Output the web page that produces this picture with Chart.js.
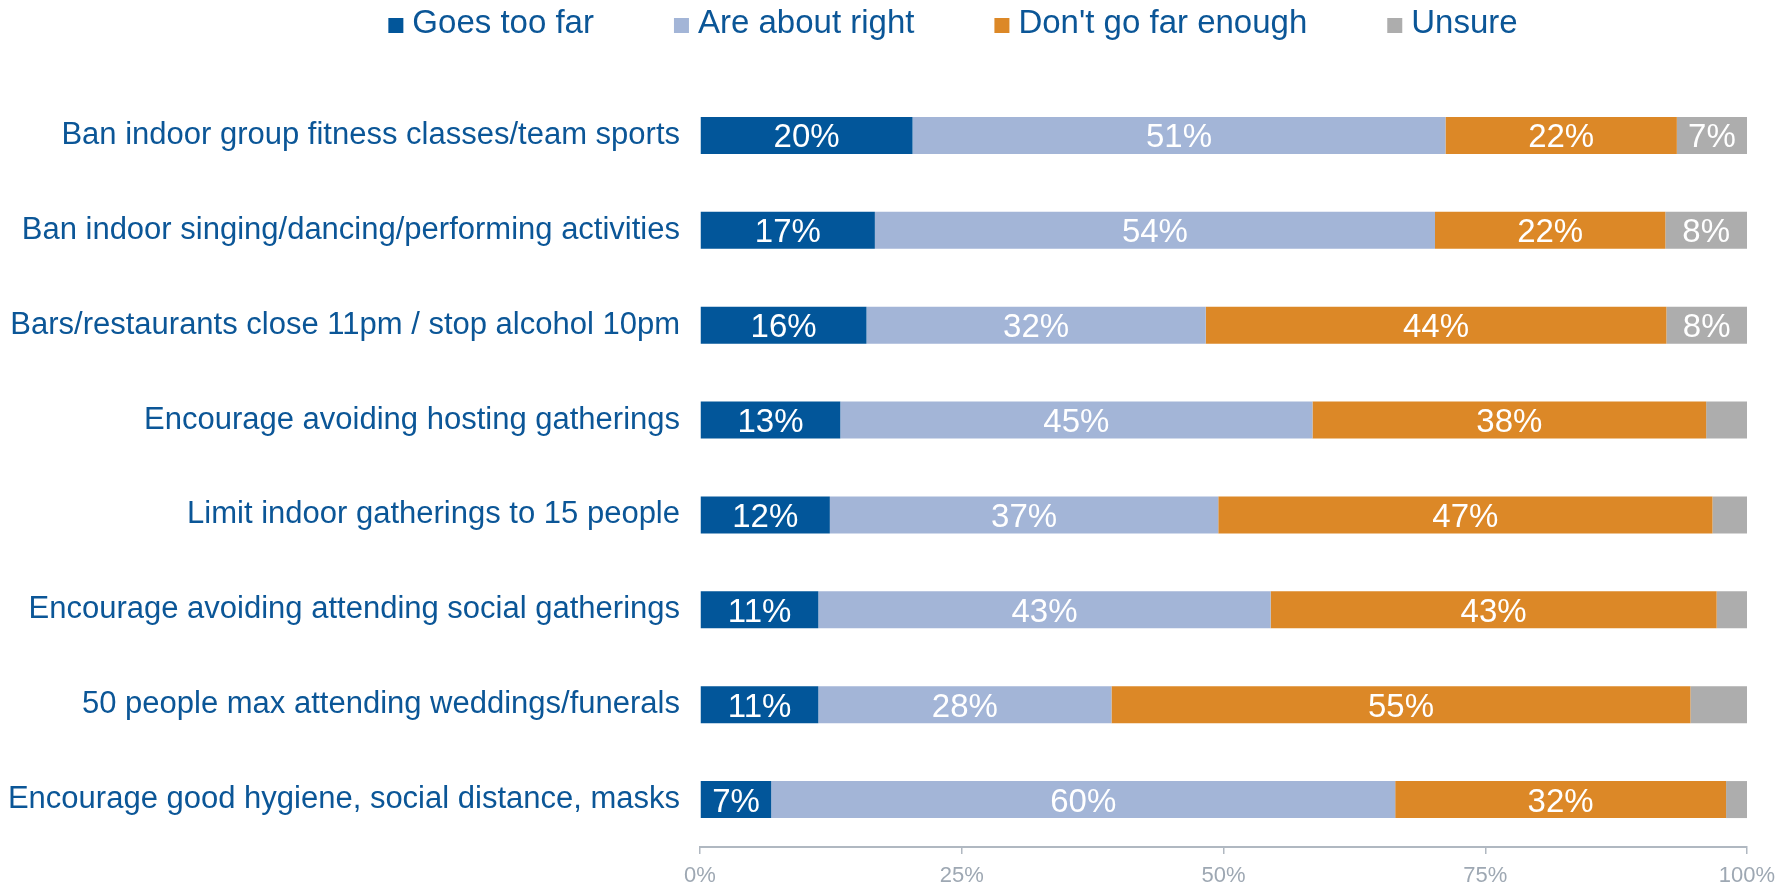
<!DOCTYPE html>
<html lang="en">
<head>
    <meta charset="UTF-8">
    <title>Restrictions: goes too far / about right / not far enough</title>
    <script src="https://cdn.jsdelivr.net/npm/chart.js@4"></script>
    <style>
        body {
            margin: 0;
            background-color: #ffffff;
        }
        .chart-box {
            position: relative;
            width: 1787px;
            height: 886px;
        }
    </style>
</head>
<body>

    <div class="chart-box">
        <canvas id="measuresChart"></canvas>
    </div>

    <script>
        // Data (percent of respondents)
        const categories = [
            'Ban indoor group fitness classes/team sports',
            'Ban indoor singing/dancing/performing activities',
            'Bars/restaurants close 11pm / stop alcohol 10pm',
            'Encourage avoiding hosting gatherings',
            'Limit indoor gatherings to 15 people',
            'Encourage avoiding attending social gatherings',
            '50 people max attending weddings/funerals',
            'Encourage good hygiene, social distance, masks'
        ];
        const goesTooFar      = [20.3, 16.7, 15.9, 13.4, 12.4, 11.3, 11.3, 6.8];
        const aboutRight      = [50.9, 53.5, 32.4, 45.1, 37.1, 43.2, 28.0, 59.6];
        const notFarEnough    = [22.1, 22.0, 44.0, 37.6, 47.2, 42.6, 55.3, 31.6];
        const unsure          = [6.7, 7.8, 7.7, 3.9, 3.3, 2.9, 5.4, 2.0];
        const seriesNames     = ['Goes too far', 'Are about right', "Don't go far enough", 'Unsure'];
        const xTicks          = [0, 25, 50, 75, 100];

        const blueText = '#0b5697';
        const fontFamily = '"Liberation Sans", Arial, sans-serif';

        // white % labels in the middle of each segment (small ones are left out)
        const segmentLabels = {
            id: 'segmentLabels',
            afterDatasetsDraw(chart) {
                const ctx = chart.ctx;
                ctx.save();
                ctx.font = '33px ' + fontFamily;
                ctx.fillStyle = '#ffffff';
                ctx.textAlign = 'center';
                ctx.textBaseline = 'alphabetic';
                chart.data.datasets.forEach((ds, i) => {
                    const meta = chart.getDatasetMeta(i);
                    meta.data.forEach((bar, j) => {
                        const v = ds.data[j];
                        if (v < 6) return;
                        const cx = (bar.x + bar.base) / 2;
                        ctx.fillText(Math.round(v) + '%', cx, bar.y + 12);
                    });
                });
                ctx.restore();
            }
        };

        // legend row at the top: small square, text, wide gaps
        const topLegend = {
            id: 'topLegend',
            afterDraw(chart) {
                const ctx = chart.ctx;
                const box = 15, gap = 9, space = 80, centerX = 953, baseY = 33;
                ctx.save();
                ctx.font = '33px ' + fontFamily;
                ctx.textBaseline = 'alphabetic';
                ctx.textAlign = 'left';
                const items = chart.data.datasets.map(ds => ({
                    text: ds.label,
                    color: ds.backgroundColor,
                    w: ctx.measureText(ds.label).width
                }));
                const total = items.reduce((s, it) => s + box + gap + it.w, 0) + space * (items.length - 1);
                let x = centerX - total / 2;
                items.forEach(it => {
                    ctx.fillStyle = it.color;
                    ctx.fillRect(x, baseY - box, box, box);
                    ctx.fillStyle = blueText;
                    ctx.fillText(it.text, x + box + gap, baseY);
                    x += box + gap + it.w + space;
                });
                ctx.restore();
            }
        };

        const colors = ['#02569a', '#a3b5d7', '#dc8827', '#adadad'];
        const seriesData = [goesTooFar, aboutRight, notFarEnough, unsure];

        const data = {
            labels: categories,
            datasets: seriesNames.map((name, i) => ({
                label: name,
                data: seriesData[i],
                backgroundColor: colors[i],
                borderWidth: 0,
                barPercentage: 0.39,
                categoryPercentage: 1.0
            }))
        };

        const config = {
            type: 'bar',
            data: data,
            options: {
                indexAxis: 'y',
                responsive: true,
                maintainAspectRatio: false,
                animation: false,
                layout: {
                    padding: { top: 88, right: 40, left: 0, bottom: 0 }
                },
                plugins: {
                    legend: { display: false },
                    tooltip: { enabled: false }
                },
                scales: {
                    x: {
                        stacked: true,
                        min: 0,
                        max: 100,
                        afterBuildTicks: (axis) => {
                            axis.ticks = xTicks.map(v => ({ value: v }));
                        },
                        afterFit: (axis) => { axis.height = 39; },
                        border: { display: true, color: '#b0b8c1', width: 2 },
                        grid: {
                            drawOnChartArea: false,
                            drawTicks: true,
                            tickLength: 7,
                            color: '#b0b8c1',
                            lineWidth: 1.5
                        },
                        ticks: {
                            callback: (v) => v + '%',
                            color: '#9ea8b3',
                            font: { family: fontFamily, size: 22 },
                            padding: 9,
                            maxRotation: 0
                        }
                    },
                    y: {
                        stacked: true,
                        afterFit: (axis) => { axis.width = 700; },
                        border: { display: false },
                        grid: { display: false, drawTicks: false },
                        ticks: {
                            color: blueText,
                            font: { family: fontFamily, size: 31 },
                            padding: 20,
                            autoSkip: false
                        }
                    }
                }
            },
            plugins: [segmentLabels, topLegend]
        };

        const measuresChart = new Chart(
            document.getElementById('measuresChart'),
            config
        );
    </script>
</body>
</html>
